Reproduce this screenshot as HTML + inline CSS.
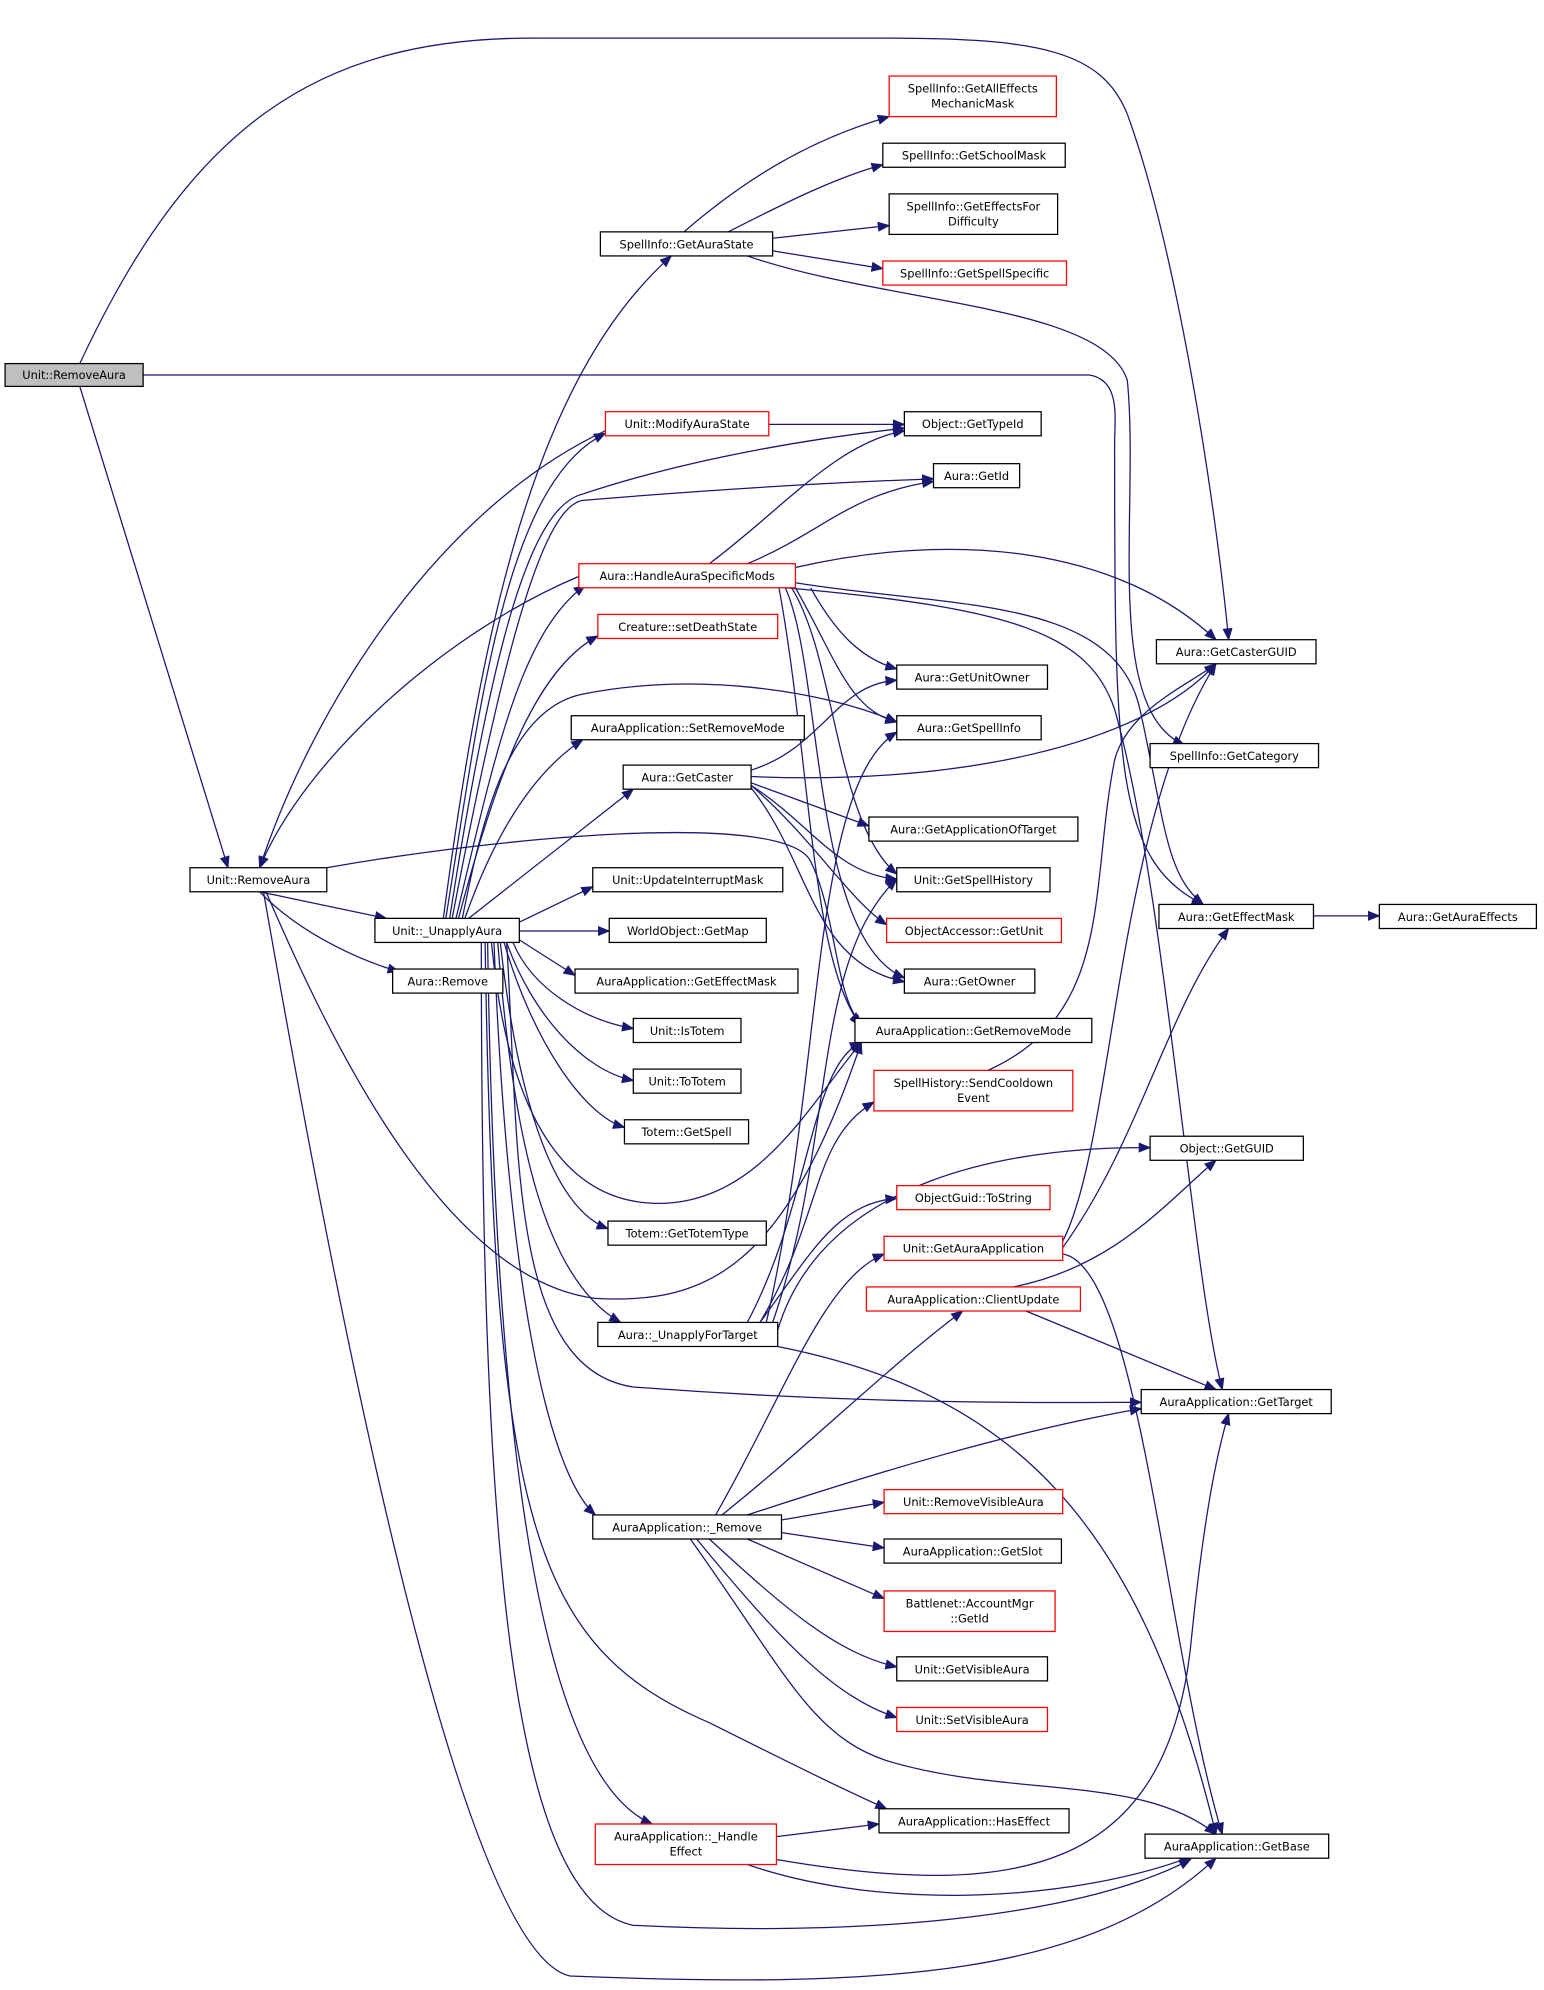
<!DOCTYPE html>
<html><head><meta charset="utf-8"><style>
html,body{margin:0;padding:0;background:#fff}
svg{display:block}
text{font-family:"DejaVu Sans","Liberation Sans",sans-serif;font-size:9px;fill:#000}
.e{fill:none;stroke:#191970;stroke-width:1;marker-end:url(#a)}
.n{fill:#fff;stroke:#000;stroke-width:1}
.r{fill:#fff;stroke:#f00;stroke-width:1}
</style></head><body>
<svg width="1544" height="1990" viewBox="0 0 1219 1571" xmlns="http://www.w3.org/2000/svg">
<defs><marker id="a" markerWidth="10" markerHeight="8" refX="9" refY="4" orient="auto" markerUnits="userSpaceOnUse"><path d="M0,0 L10,4 L0,8 z" fill="#191970"/></marker></defs>
<rect width="1219" height="1571" fill="#fff"/>
<g>
<path class="e" d="M63,287 C150,100 250,30 420,30 L700,30 C820,30 870,40 890,90 C930,200 960,400 970,505"/>
<path class="e" d="M113,296 L860,296 C885,300 880,330 880,350 C880,600 880,680 950,714"/>
<path class="e" d="M63,305 L180,685"/>
<path class="e" d="M205,704 L305,725"/>
<path class="e" d="M205,704 C240,740 290,760 315,767"/>
<path class="e" d="M258,685 C400,660 620,640 640,680 C660,720 660,790 680,808"/>
<path class="e" d="M208,704 C260,1000 360,1540 450,1560 C700,1570 860,1560 960,1467"/>
<path class="e" d="M210,704 C260,820 350,1010 470,1025 C560,1030 620,1000 680,823"/>
<path class="e" d="M478,340 C350,400 250,550 205,685"/>
<path class="e" d="M457,455 C350,500 240,600 205,685"/>
<path class="e" d="M350,725 C380,500 420,300 530,202"/>
<path class="e" d="M352,725 C380,550 400,380 478,342"/>
<path class="e" d="M355,725 C390,500 420,400 460,390 C550,360 650,345 714,338"/>
<path class="e" d="M357,725 C400,500 430,400 460,395 C580,385 680,380 737,378"/>
<path class="e" d="M360,725 C390,600 410,500 462,462"/>
<path class="e" d="M362,725 C390,620 420,530 472,502"/>
<path class="e" d="M365,725 C380,650 400,560 460,548 C550,530 650,545 708,570"/>
<path class="e" d="M367,725 C390,660 420,610 460,584"/>
<path class="e" d="M370,725 L500,623"/>
<path class="e" d="M410,728 L468,700"/>
<path class="e" d="M410,735 L481,735"/>
<path class="e" d="M410,742 L454,770"/>
<path class="e" d="M405,744 C420,780 460,805 500,812"/>
<path class="e" d="M400,744 C420,800 460,845 500,853"/>
<path class="e" d="M398,744 C420,820 460,880 493,890"/>
<path class="e" d="M395,744 C410,880 440,955 480,970"/>
<path class="e" d="M393,744 C405,900 430,1010 490,1044"/>
<path class="e" d="M390,744 C400,1000 430,1160 470,1196"/>
<path class="e" d="M385,744 C390,1100 420,1400 515,1440"/>
<path class="e" d="M383,744 C390,1200 420,1300 560,1360 C620,1390 660,1410 700,1428"/>
<path class="e" d="M380,744 C380,1200 400,1500 500,1520 C700,1530 860,1510 940,1468"/>
<path class="e" d="M400,744 C410,900 400,1080 500,1095 C700,1110 850,1107 901,1107"/>
<path class="e" d="M388,744 C400,870 440,950 520,950 C600,950 640,870 680,823"/>
<path class="e" d="M540,183 C590,140 640,110 702,92"/>
<path class="e" d="M575,183 C620,160 660,140 697,130"/>
<path class="e" d="M610,188 L702,178"/>
<path class="e" d="M610,198 L697,212"/>
<path class="e" d="M590,202 C700,240 870,240 890,300 C900,400 870,560 935,588"/>
<path class="e" d="M607,335 L714,335"/>
<path class="e" d="M560,445 C620,400 660,350 714,340"/>
<path class="e" d="M590,445 C650,420 670,390 737,380"/>
<path class="e" d="M628,448 C750,420 880,430 960,505"/>
<path class="e" d="M640,464 C660,500 680,520 708,528"/>
<path class="e" d="M628,464 C660,520 670,560 708,570"/>
<path class="e" d="M628,460 C750,480 880,470 900,560 C920,650 920,690 950,714"/>
<path class="e" d="M620,464 C800,480 860,500 880,560 C920,700 940,1000 965,1097"/>
<path class="e" d="M625,464 C660,520 660,650 708,690"/>
<path class="e" d="M620,464 C650,530 640,740 714,772"/>
<path class="e" d="M615,464 C640,600 640,760 680,810"/>
<path class="e" d="M593,608 C650,590 660,540 708,537"/>
<path class="e" d="M593,613 C750,620 900,590 960,524"/>
<path class="e" d="M593,618 L686,652"/>
<path class="e" d="M593,620 C640,650 660,690 708,694"/>
<path class="e" d="M593,620 C640,660 670,710 700,730"/>
<path class="e" d="M593,622 C640,680 640,760 714,775"/>
<path class="e" d="M780,845 C880,800 860,700 880,600 C890,560 940,540 960,524"/>
<path class="e" d="M600,1044 C640,990 660,950 708,946"/>
<path class="e" d="M600,1044 C650,960 640,900 690,870"/>
<path class="e" d="M610,1044 C660,900 640,760 708,694"/>
<path class="e" d="M605,1044 C650,850 640,620 708,578"/>
<path class="e" d="M590,1044 C640,950 640,840 680,823"/>
<path class="e" d="M614,1050 C650,930 800,905 908,906"/>
<path class="e" d="M614,1063 C800,1100 900,1200 960,1448"/>
<path class="e" d="M839,980 C880,900 880,650 960,524"/>
<path class="e" d="M839,985 C900,900 920,800 970,733"/>
<path class="e" d="M839,990 C900,1000 920,1300 965,1448"/>
<path class="e" d="M800,1016 C880,1000 920,950 960,916"/>
<path class="e" d="M810,1035 L960,1097"/>
<path class="e" d="M565,1196 C620,1100 650,1010 698,990"/>
<path class="e" d="M570,1196 C640,1140 700,1080 760,1035"/>
<path class="e" d="M590,1196 C700,1160 800,1130 901,1112"/>
<path class="e" d="M617,1200 L698,1186"/>
<path class="e" d="M617,1210 L698,1222"/>
<path class="e" d="M590,1215 L698,1262"/>
<path class="e" d="M560,1215 C620,1270 660,1305 708,1316"/>
<path class="e" d="M550,1215 C620,1300 660,1340 708,1356"/>
<path class="e" d="M545,1215 C620,1320 640,1370 700,1390 C800,1420 900,1400 960,1448"/>
<path class="e" d="M613,1450 L694,1440"/>
<path class="e" d="M613,1468 C800,1500 920,1480 940,1300 C950,1200 960,1150 970,1116"/>
<path class="e" d="M590,1472 C700,1510 850,1500 940,1466"/>
<path class="e" d="M1037,723 L1089,723"/>
</g>
<g text-anchor="middle">
<rect x="4" y="287" width="109" height="18" fill="#bfbfbf" stroke="#000"/><text x="58.5" y="299">Unit::RemoveAura</text>
<rect class="n" x="150" y="685" width="108" height="19"/><text x="204" y="698">Unit::RemoveAura</text>
<rect class="n" x="296" y="725" width="114" height="19"/><text x="353" y="738">Unit::_UnapplyAura</text>
<rect class="n" x="310" y="765" width="87" height="19"/><text x="353.5" y="778">Aura::Remove</text>
<rect class="n" x="474" y="183" width="136" height="19"/><text x="542" y="196">SpellInfo::GetAuraState</text>
<rect class="r" x="702" y="60" width="132" height="32"/><text x="768" y="73">SpellInfo::GetAllEffects</text><text x="768" y="85">MechanicMask</text>
<rect class="n" x="697" y="113" width="144" height="19"/><text x="769" y="126">SpellInfo::GetSchoolMask</text>
<rect class="n" x="702" y="153" width="133" height="32"/><text x="768.5" y="166">SpellInfo::GetEffectsFor</text><text x="768.5" y="178">Difficulty</text>
<rect class="r" x="697" y="206" width="145" height="19"/><text x="769.5" y="219">SpellInfo::GetSpellSpecific</text>
<rect class="r" x="478" y="325" width="129" height="19"/><text x="542.5" y="338">Unit::ModifyAuraState</text>
<rect class="n" x="714" y="325" width="108" height="19"/><text x="768" y="338">Object::GetTypeId</text>
<rect class="n" x="737" y="366" width="68" height="19"/><text x="771" y="379">Aura::GetId</text>
<rect class="r" x="457" y="445" width="171" height="19"/><text x="542.5" y="458">Aura::HandleAuraSpecificMods</text>
<rect class="r" x="472" y="485" width="142" height="19"/><text x="543" y="498">Creature::setDeathState</text>
<rect class="n" x="708" y="525" width="119" height="19"/><text x="767.5" y="538">Aura::GetUnitOwner</text>
<rect class="n" x="451" y="565" width="184" height="19"/><text x="543" y="578">AuraApplication::SetRemoveMode</text>
<rect class="n" x="708" y="565" width="114" height="19"/><text x="765" y="578">Aura::GetSpellInfo</text>
<rect class="n" x="492" y="604" width="101" height="19"/><text x="542.5" y="617">Aura::GetCaster</text>
<rect class="n" x="686" y="645" width="165" height="19"/><text x="768.5" y="658">Aura::GetApplicationOfTarget</text>
<rect class="n" x="468" y="685" width="150" height="19"/><text x="543" y="698">Unit::UpdateInterruptMask</text>
<rect class="n" x="708" y="685" width="121" height="19"/><text x="768.5" y="698">Unit::GetSpellHistory</text>
<rect class="n" x="481" y="725" width="124" height="19"/><text x="543" y="738">WorldObject::GetMap</text>
<rect class="r" x="700" y="725" width="138" height="19"/><text x="769" y="738">ObjectAccessor::GetUnit</text>
<rect class="n" x="454" y="765" width="176" height="19"/><text x="542" y="778">AuraApplication::GetEffectMask</text>
<rect class="n" x="714" y="765" width="103" height="19"/><text x="765.5" y="778">Aura::GetOwner</text>
<rect class="n" x="500" y="804" width="85" height="19"/><text x="542.5" y="817">Unit::IsTotem</text>
<rect class="n" x="675" y="804" width="187" height="19"/><text x="768.5" y="817">AuraApplication::GetRemoveMode</text>
<rect class="n" x="500" y="844" width="85" height="19"/><text x="542.5" y="857">Unit::ToTotem</text>
<rect class="r" x="690" y="845" width="157" height="32"/><text x="768.5" y="858">SpellHistory::SendCooldown</text><text x="768.5" y="870">Event</text>
<rect class="n" x="493" y="884" width="98" height="19"/><text x="542" y="897">Totem::GetSpell</text>
<rect class="n" x="908" y="897" width="121" height="19"/><text x="968.5" y="910">Object::GetGUID</text>
<rect class="r" x="708" y="936" width="121" height="19"/><text x="768.5" y="949">ObjectGuid::ToString</text>
<rect class="n" x="480" y="964" width="125" height="19"/><text x="542.5" y="977">Totem::GetTotemType</text>
<rect class="r" x="698" y="976" width="141" height="19"/><text x="768.5" y="989">Unit::GetAuraApplication</text>
<rect class="r" x="684" y="1016" width="169" height="19"/><text x="768.5" y="1029">AuraApplication::ClientUpdate</text>
<rect class="n" x="472" y="1044" width="142" height="19"/><text x="543" y="1057">Aura::_UnapplyForTarget</text>
<rect class="n" x="901" y="1097" width="150" height="19"/><text x="976" y="1110">AuraApplication::GetTarget</text>
<rect class="r" x="698" y="1176" width="141" height="19"/><text x="768.5" y="1189">Unit::RemoveVisibleAura</text>
<rect class="n" x="468" y="1196" width="149" height="19"/><text x="542.5" y="1209">AuraApplication::_Remove</text>
<rect class="n" x="698" y="1215" width="140" height="19"/><text x="768" y="1228">AuraApplication::GetSlot</text>
<rect class="r" x="698" y="1256" width="135" height="32"/><text x="765.5" y="1269">Battlenet::AccountMgr</text><text x="765.5" y="1281">::GetId</text>
<rect class="n" x="708" y="1308" width="119" height="19"/><text x="767.5" y="1321">Unit::GetVisibleAura</text>
<rect class="r" x="708" y="1348" width="119" height="19"/><text x="767.5" y="1361">Unit::SetVisibleAura</text>
<rect class="r" x="470" y="1440" width="143" height="32"/><text x="541.5" y="1453">AuraApplication::_Handle</text><text x="541.5" y="1465">Effect</text>
<rect class="n" x="694" y="1428" width="150" height="19"/><text x="769" y="1441">AuraApplication::HasEffect</text>
<rect class="n" x="904" y="1448" width="145" height="19"/><text x="976.5" y="1461">AuraApplication::GetBase</text>
<rect class="n" x="913" y="505" width="126" height="19"/><text x="976" y="518">Aura::GetCasterGUID</text>
<rect class="n" x="908" y="587" width="133" height="19"/><text x="974.5" y="600">SpellInfo::GetCategory</text>
<rect class="n" x="915" y="714" width="122" height="19"/><text x="976" y="727">Aura::GetEffectMask</text>
<rect class="n" x="1089" y="714" width="124" height="19"/><text x="1151" y="727">Aura::GetAuraEffects</text>
</g>
</svg>
</body></html>
